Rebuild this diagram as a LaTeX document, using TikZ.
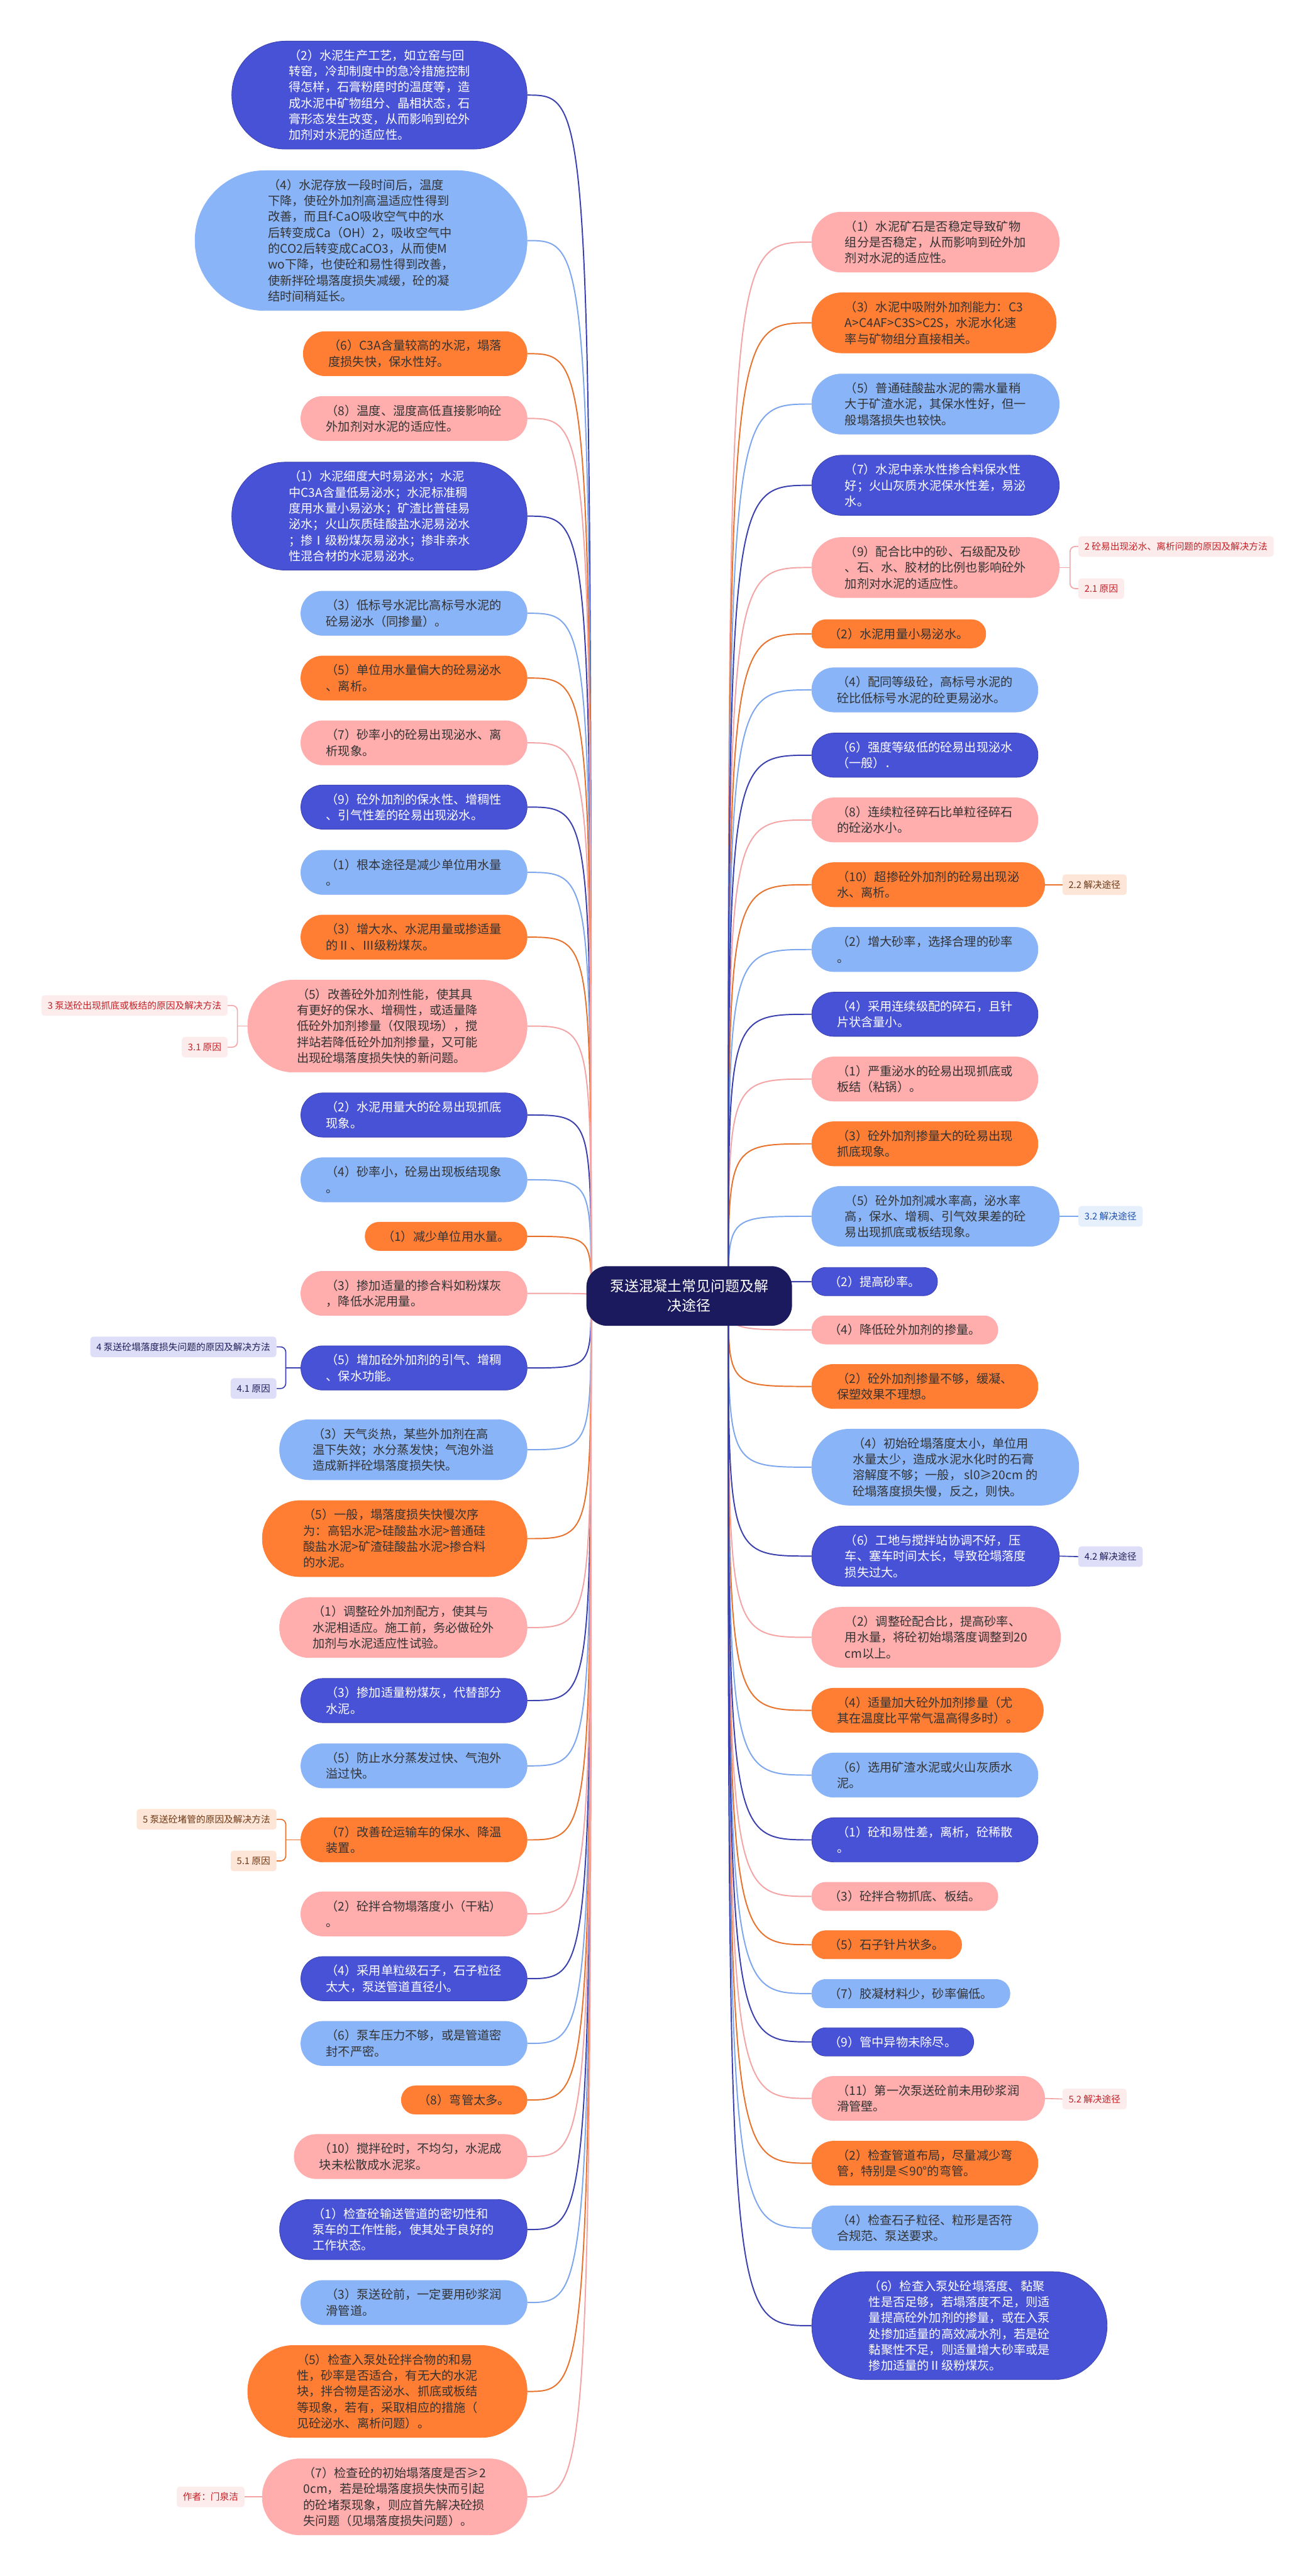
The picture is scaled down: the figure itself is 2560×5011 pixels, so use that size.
\documentclass[tikz,border=0pt]{standalone}
\usepackage{fontspec}
\setmainfont{Noto Sans CJK SC}
\usetikzlibrary{backgrounds}
\definecolor{dkblue}{RGB}{72,82,214}
\definecolor{dkblueline}{RGB}{58,64,176}
\definecolor{ltblue}{RGB}{138,180,248}
\definecolor{ltblueline}{RGB}{124,166,238}
\definecolor{orng}{RGB}{255,126,51}
\definecolor{orngline}{RGB}{232,114,44}
\definecolor{pnk}{RGB}{255,173,173}
\definecolor{pnkline}{RGB}{244,164,164}
\definecolor{hubnavy}{RGB}{28,26,94}
\definecolor{txtgray}{RGB}{51,51,51}
\definecolor{tagpkfill}{RGB}{253,236,236}
\definecolor{tagpktext}{RGB}{196,32,38}
\definecolor{tagorfill}{RGB}{253,230,216}
\definecolor{tagortext}{RGB}{110,56,20}
\definecolor{tagdbfill}{RGB}{222,222,248}
\definecolor{tagdbtext}{RGB}{30,30,90}
\definecolor{taglbfill}{RGB}{230,239,252}
\definecolor{taglbtext}{RGB}{30,80,176}
\newcommand{\leaffont}{\fontsize{23.5}{31}\selectfont}
\newcommand{\tagfont}{\fontsize{18}{22}\selectfont}
\newcommand{\hubfont}{\fontsize{28}{38}\selectfont}
\tikzset{
  % #1 = number of text lines; the ends are half circles
  leaf/.style={rectangle,align=left,font=\leaffont,line width=1pt,inner ysep=0pt,
    minimum height=31*#1+24,inner xsep=15.5*#1+18,rounded corners=15.5*#1+11.5},
  leafdb/.style={leaf=#1,fill=dkblue,draw=dkblueline,text=white},
  leaflb/.style={leaf=#1,fill=ltblue,draw=ltblue,text=txtgray},
  leafor/.style={leaf=#1,fill=orng,draw=orng,text=txtgray},
  leafpk/.style={leaf=#1,fill=pnk,draw=pnk,text=txtgray},
  hubnode/.style={fill=hubnavy,text=white,rounded corners=40pt,inner xsep=46pt,inner ysep=26pt,
    minimum height=116pt,align=center,font=\hubfont},
  tag/.style={rounded corners=6pt,inner xsep=12pt,minimum height=40pt,font=\tagfont},
  tagpk/.style={tag,fill=tagpkfill,text=tagpktext},
  tagor/.style={tag,fill=tagorfill,text=tagortext},
  tagdb/.style={tag,fill=tagdbfill,text=tagdbtext},
  taglb/.style={tag,fill=taglbfill,text=taglbtext},
  branch/.style={line width=2.4pt,
    to path={.. controls (\tikztostart |- \tikztotarget) and (\tikztostart |- \tikztotarget) .. (\tikztotarget)}},
  bracket/.style={line width=2pt,rounded corners=10pt}
}
\begin{document}
\begin{tikzpicture}[x=1pt,y=-1pt]
  \useasboundingbox (0,0) rectangle (2560,5011);
  % central topic
  \node[hubnode] (hub) at (1341,2521) {泵送混凝土常见问题及解\\决途径};
  \coordinate (hubL) at (1150,2521);
  \coordinate (hubR) at (1417,2521);

  % left branches
  \node[leafdb=6,anchor=east] (L1) at (1026,185) {（2）水泥生产工艺，如立窑与回\\转窑，冷却制度中的急冷措施控制\\得怎样，石膏粉磨时的温度等，造\\成水泥中矿物组分、晶相状态，石\\膏形态发生改变，从而影响到砼外\\加剂对水泥的适应性。};
  \node[leaflb=8,anchor=east] (L2) at (1026,468) {（4）水泥存放一段时间后，温度\\下降，使砼外加剂高温适应性得到\\改善，而且f-CaO吸收空气中的水\\后转变成Ca（OH）2，吸收空气中\\的CO2后转变成CaCO3，从而使M\\wo下降，也使砼和易性得到改善，\\使新拌砼塌落度损失减缓，砼的凝\\结时间稍延长。};
  \node[leafor=2,anchor=east] (L3) at (1026,688) {（6）C3A含量较高的水泥，塌落\\度损失快，保水性好。};
  \node[leafpk=2,anchor=east] (L4) at (1026,814) {（8）温度、湿度高低直接影响砼\\外加剂对水泥的适应性。};
  \node[leafdb=6,anchor=east] (L5) at (1026,1004) {（1）水泥细度大时易泌水；水泥\\中C3A含量低易泌水；水泥标准稠\\度用水量小易泌水；矿渣比普硅易\\泌水；火山灰质硅酸盐水泥易泌水\\；掺Ⅰ级粉煤灰易泌水；掺非亲水\\性混合材的水泥易泌水。};
  \node[leaflb=2,anchor=east] (L6) at (1026,1193) {（3）低标号水泥比高标号水泥的\\砼易泌水（同掺量）。};
  \node[leafor=2,anchor=east] (L7) at (1026,1319) {（5）单位用水量偏大的砼易泌水\\、离析。};
  \node[leafpk=2,anchor=east] (L8) at (1026,1445) {（7）砂率小的砼易出现泌水、离\\析现象。};
  \node[leafdb=2,anchor=east] (L9) at (1026,1570) {（9）砼外加剂的保水性、增稠性\\、引气性差的砼易出现泌水。};
  \node[leaflb=2,anchor=east] (L10) at (1026,1697) {（1）根本途径是减少单位用水量\\。};
  \node[leafor=2,anchor=east] (L11) at (1026,1823) {（3）增大水、水泥用量或掺适量\\的Ⅱ、Ⅲ级粉煤灰。};
  \node[leafpk=5,anchor=east] (L12) at (1026,1996) {（5）改善砼外加剂性能，使其具\\有更好的保水、增稠性，或适量降\\低砼外加剂掺量（仅限现场），搅\\拌站若降低砼外加剂掺量，又可能\\出现砼塌落度损失快的新问题。};
  \node[leafdb=2,anchor=east] (L13) at (1026,2169) {（2）水泥用量大的砼易出现抓底\\现象。};
  \node[leaflb=2,anchor=east] (L14) at (1026,2295) {（4）砂率小，砼易出现板结现象\\。};
  \node[leafor=1,anchor=east] (L15) at (1026,2405) {（1）减少单位用水量。};
  \node[leafpk=2,anchor=east] (L16) at (1026,2516) {（3）掺加适量的掺合料如粉煤灰\\，降低水泥用量。};
  \node[leafdb=2,anchor=east] (L17) at (1026,2661) {（5）增加砼外加剂的引气、增稠\\、保水功能。};
  \node[leaflb=3,anchor=east] (L18) at (1026,2820) {（3）天气炎热，某些外加剂在高\\温下失效；水分蒸发快；气泡外溢\\造成新拌砼塌落度损失快。};
  \node[leafor=4,anchor=east] (L19) at (1026,2993) {（5）一般，塌落度损失快慢次序\\为：高铝水泥>硅酸盐水泥>普通硅\\酸盐水泥>矿渣硅酸盐水泥>掺合料\\的水泥。};
  \node[leafpk=3,anchor=east] (L20) at (1026,3166) {（1）调整砼外加剂配方，使其与\\水泥相适应。施工前，务必做砼外\\加剂与水泥适应性试验。};
  \node[leafdb=2,anchor=east] (L21) at (1026,3308) {（3）掺加适量粉煤灰，代替部分\\水泥。};
  \node[leaflb=2,anchor=east] (L22) at (1026,3435) {（5）防止水分蒸发过快、气泡外\\溢过快。};
  \node[leafor=2,anchor=east] (L23) at (1026,3579) {（7）改善砼运输车的保水、降温\\装置。};
  \node[leafpk=2,anchor=east] (L24) at (1026,3723) {（2）砼拌合物塌落度小（干粘）\\。};
  \node[leafdb=2,anchor=east] (L25) at (1026,3849) {（4）采用单粒级石子，石子粒径\\太大，泵送管道直径小。};
  \node[leaflb=2,anchor=east] (L26) at (1026,3975) {（6）泵车压力不够，或是管道密\\封不严密。};
  \node[leafor=1,anchor=east] (L27) at (1026,4085) {（8）弯管太多。};
  \node[leafpk=2,anchor=east] (L28) at (1026,4195) {（10）搅拌砼时，不均匀，水泥成\\块未松散成水泥浆。};
  \node[leafdb=3,anchor=east] (L29) at (1026,4337) {（1）检查砼输送管道的密切性和\\泵车的工作性能，使其处于良好的\\工作状态。};
  \node[leaflb=2,anchor=east] (L30) at (1026,4479) {（3）泵送砼前，一定要用砂浆润\\滑管道。};
  \node[leafor=5,anchor=east] (L31) at (1026,4652) {（5）检查入泵处砼拌合物的和易\\性，砂率是否适合，有无大的水泥\\块，拌合物是否泌水、抓底或板结\\等现象，若有，采取相应的措施（\\见砼泌水、离析问题）。};
  \node[leafpk=4,anchor=east] (L32) at (1026,4857) {（7）检查砼的初始塌落度是否≥2\\0cm，若是砼塌落度损失快而引起\\的砼堵泵现象，则应首先解决砼损\\失问题（见塌落度损失问题）。};

  % right branches
  \node[leafpk=3,anchor=west] (R1) at (1579,471) {（1）水泥矿石是否稳定导致矿物\\组分是否稳定，从而影响到砼外加\\剂对水泥的适应性。};
  \node[leafor=3,anchor=west] (R2) at (1579,628) {（3）水泥中吸附外加剂能力：C3\\A>C4AF>C3S>C2S，水泥水化速\\率与矿物组分直接相关。};
  \node[leaflb=3,anchor=west] (R3) at (1579,786) {（5）普通硅酸盐水泥的需水量稍\\大于矿渣水泥，其保水性好，但一\\般塌落损失也较快。};
  \node[leafdb=3,anchor=west] (R4) at (1579,944) {（7）水泥中亲水性掺合料保水性\\好；火山灰质水泥保水性差，易泌\\水。};
  \node[leafpk=3,anchor=west] (R5) at (1579,1104) {（9）配合比中的砂、石级配及砂\\、石、水、胶材的比例也影响砼外\\加剂对水泥的适应性。};
  \node[leafor=1,anchor=west] (R6) at (1579,1233) {（2）水泥用量小易泌水。};
  \node[leaflb=2,anchor=west] (R7) at (1579,1342) {（4）配同等级砼，高标号水泥的\\砼比低标号水泥的砼更易泌水。};
  \node[leafdb=2,anchor=west] (R8) at (1579,1469) {（6）强度等级低的砼易出现泌水\\（一般）．};
  \node[leafpk=2,anchor=west] (R9) at (1579,1595) {（8）连续粒径碎石比单粒径碎石\\的砼泌水小。};
  \node[leafor=2,anchor=west] (R10) at (1579,1721) {（10）超掺砼外加剂的砼易出现泌\\水、离析。};
  \node[leaflb=2,anchor=west] (R11) at (1579,1847) {（2）增大砂率，选择合理的砂率\\。};
  \node[leafdb=2,anchor=west] (R12) at (1579,1973) {（4）采用连续级配的碎石，且针\\片状含量小。};
  \node[leafpk=2,anchor=west] (R13) at (1579,2099) {（1）严重泌水的砼易出现抓底或\\板结（粘锅）。};
  \node[leafor=2,anchor=west] (R14) at (1579,2225) {（3）砼外加剂掺量大的砼易出现\\抓底现象。};
  \node[leaflb=3,anchor=west] (R15) at (1579,2366) {（5）砼外加剂减水率高，泌水率\\高，保水、增稠、引气效果差的砼\\易出现抓底或板结现象。};
  \node[leafdb=1,anchor=west] (R16) at (1579,2493) {（2）提高砂率。};
  \node[leafpk=1,anchor=west] (R17) at (1579,2587) {（4）降低砼外加剂的掺量。};
  \node[leafor=2,anchor=west] (R18) at (1579,2697) {（2）砼外加剂掺量不够，缓凝、\\保塑效果不理想。};
  \node[leaflb=4,anchor=west] (R19) at (1579,2854) {（4）初始砼塌落度太小，单位用\\水量太少，造成水泥水化时的石膏\\溶解度不够；一般， sl0≥20cm 的\\砼塌落度损失慢，反之，则快。};
  \node[leafdb=3,anchor=west] (R20) at (1579,3027) {（6）工地与搅拌站协调不好，压\\车、塞车时间太长，导致砼塌落度\\损失过大。};
  \node[leafpk=3,anchor=west] (R21) at (1579,3185) {（2）调整砼配合比，提高砂率、\\用水量，将砼初始塌落度调整到20\\cm以上。};
  \node[leafor=2,anchor=west] (R22) at (1579,3327) {（4）适量加大砼外加剂掺量（尤\\其在温度比平常气温高得多时）。};
  \node[leaflb=2,anchor=west] (R23) at (1579,3453) {（6）选用矿渣水泥或火山灰质水\\泥。};
  \node[leafdb=2,anchor=west] (R24) at (1579,3579) {（1）砼和易性差，离析，砼稀散\\。};
  \node[leafpk=1,anchor=west] (R25) at (1579,3689) {（3）砼拌合物抓底、板结。};
  \node[leafor=1,anchor=west] (R26) at (1579,3783) {（5）石子针片状多。};
  \node[leaflb=1,anchor=west] (R27) at (1579,3878) {（7）胶凝材料少，砂率偏低。};
  \node[leafdb=1,anchor=west] (R28) at (1579,3972) {（9）管中异物未除尽。};
  \node[leafpk=2,anchor=west] (R29) at (1579,4082) {（11）第一次泵送砼前未用砂浆润\\滑管壁。};
  \node[leafor=2,anchor=west] (R30) at (1579,4208) {（2）检查管道布局，尽量减少弯\\管，特别是≤90°的弯管。};
  \node[leaflb=2,anchor=west] (R31) at (1579,4334) {（4）检查石子粒径、粒形是否符\\合规范、泵送要求。};
  \node[leafdb=6,anchor=west] (R32) at (1579,4524) {（6）检查入泵处砼塌落度、黏聚\\性是否足够，若塌落度不足，则适\\量提高砼外加剂的掺量，或在入泵\\处掺加适量的高效减水剂，若是砼\\黏聚性不足，则适量增大砂率或是\\掺加适量的Ⅱ级粉煤灰。};

  % section tags
  \node[tagpk,anchor=west] (T2a) at (2098,1063) {2 砼易出现泌水、离析问题的原因及解决方法};
  \node[tagpk,anchor=west] (T2b) at (2098,1145) {2.1 原因};
  \node[tagor,anchor=west] (T22) at (2067,1721) {2.2 解决途径};
  \node[tagpk,anchor=east] (T3a) at (443,1956) {3 泵送砼出现抓底或板结的原因及解决方法};
  \node[tagpk,anchor=east] (T3b) at (443,2037) {3.1 原因};
  \node[taglb,anchor=west] (T32) at (2098,2366) {3.2 解决途径};
  \node[tagdb,anchor=east] (T4a) at (538,2620) {4 泵送砼塌落度损失问题的原因及解决方法};
  \node[tagdb,anchor=east] (T4b) at (538,2701) {4.1 原因};
  \node[tagdb,anchor=west] (T42) at (2098,3028) {4.2 解决途径};
  \node[tagor,anchor=east] (T5a) at (538,3539) {5 泵送砼堵管的原因及解决方法};
  \node[tagor,anchor=east] (T5b) at (538,3620) {5.1 原因};
  \node[tagpk,anchor=west] (T52) at (2067,4083) {5.2 解决途径};
  \node[tagpk,anchor=east] (author) at (476,4857) {作者：门泉洁};
  \coordinate (b2) at (2082,1104);
  \coordinate (b3) at (462,1996);
  \coordinate (b4) at (556,2661);
  \coordinate (b5) at (556,3579);

  \begin{scope}[on background layer]
    \fill[white] (0,0) rectangle (2560,5011);
    % curves from the central topic
    \foreach \i in {1,5,9,13,17,21,25,29} \draw[branch,draw=dkblueline] (hubL) to (L\i.east);
    \foreach \i in {2,6,10,14,18,22,26,30} \draw[branch,draw=ltblueline] (hubL) to (L\i.east);
    \foreach \i in {3,7,11,15,19,23,27,31} \draw[branch,draw=orngline] (hubL) to (L\i.east);
    \foreach \i in {4,8,12,16,20,24,28,32} \draw[branch,draw=pnkline] (hubL) to (L\i.east);
    \foreach \i in {1,5,9,13,17,21,25,29} \draw[branch,draw=pnkline] (hubR) to (R\i.west);
    \foreach \i in {2,6,10,14,18,22,26,30} \draw[branch,draw=orngline] (hubR) to (R\i.west);
    \foreach \i in {3,7,11,15,19,23,27,31} \draw[branch,draw=ltblueline] (hubR) to (R\i.west);
    \foreach \i in {4,8,12,16,20,24,28,32} \draw[branch,draw=dkblueline] (hubR) to (R\i.west);
    % tag links
    \draw[bracket,draw=pnkline] (T2a.west) -| (b2) |- (T2b.west);
    \draw[bracket,draw=pnkline] (R5.east) -- (b2);
    \draw[bracket,draw=pnkline] (T3a.east) -| (b3) |- (T3b.east);
    \draw[bracket,draw=pnkline] (b3) -- (L12.west);
    \draw[bracket,draw=dkblueline] (T4a.east) -| (b4) |- (T4b.east);
    \draw[bracket,draw=dkblueline] (b4) -- (L17.west);
    \draw[bracket,draw=orngline] (T5a.east) -| (b5) |- (T5b.east);
    \draw[bracket,draw=orngline] (b5) -- (L23.west);
    \draw[bracket,draw=orngline] (R10.east) -- (T22.west);
    \draw[bracket,draw=ltblueline] (R15.east) -- (T32.west);
    \draw[bracket,draw=dkblueline] (R20.east) -- (T42.west);
    \draw[bracket,draw=pnkline] (R29.east) -- (T52.west);
    \draw[bracket,draw=pnkline] (author.east) -- (L32.west);
  \end{scope}
\end{tikzpicture}
\end{document}
